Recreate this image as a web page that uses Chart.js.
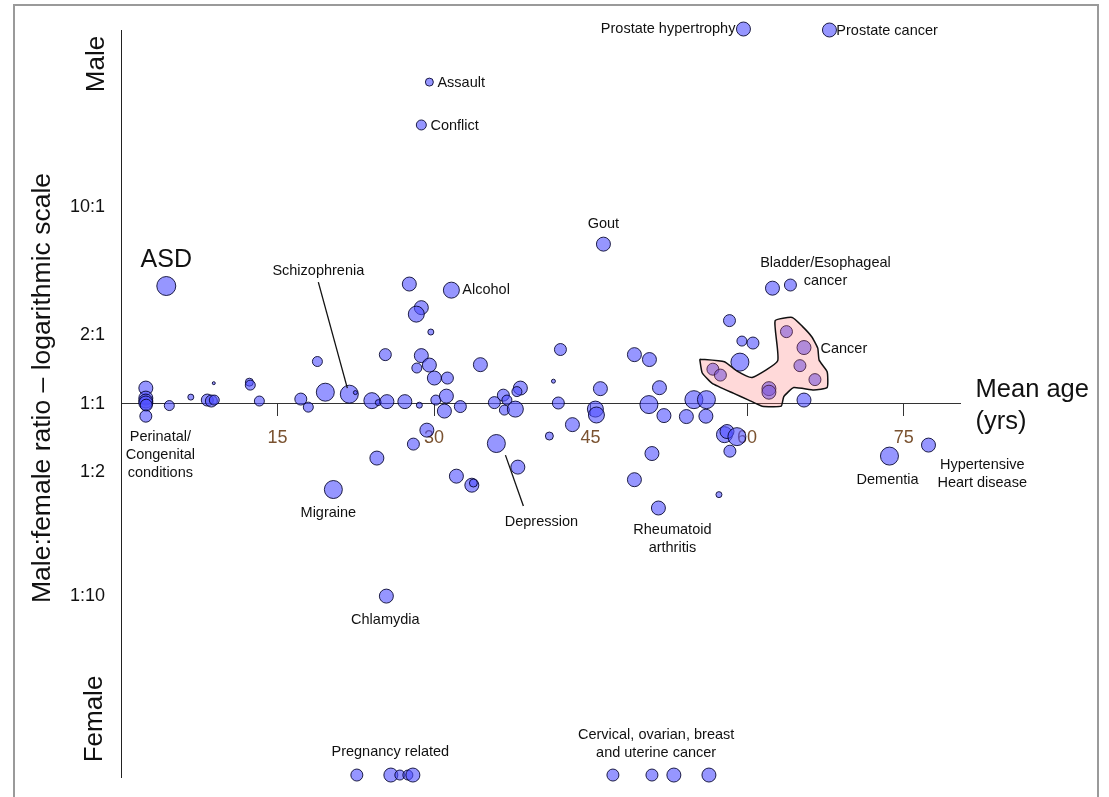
<!DOCTYPE html>
<html>
<head>
<meta charset="utf-8">
<script src="https://cdn.jsdelivr.net/npm/chart.js@4/dist/chart.umd.min.js"></script>
<style>
  html, body { margin: 0; padding: 0; background: #fff; overflow: hidden; }
  #wrap { position: relative; width: 1109px; height: 797px; overflow: hidden; }
  #frame { position: absolute; left: 13px; top: 4px; width: 1082px; height: 820px; border: 2px solid #9a9a9a; pointer-events: none; }
  canvas { position: absolute; left: 0; top: 0; }
</style>
</head>
<body>
<div id="wrap">
  <canvas id="chart" width="1109" height="804"></canvas>
  <div id="frame"></div>
</div>
<script>
// y values are positions on the log ratio axis (0 = 1:1, 1 = 10:1 as drawn)
const bubbleAge = [
  2.38, 2.38, 2.38, 2.38, 2.42, 2.38, 4.63, 6.69, 8.89, 8.27, 8.66, 8.94,
  12.30, 12.39, 13.26, 18.82, 17.23, 17.95, 19.58, 21.88, 22.46, 20.35, 4.34,
  27.63, 31.66, 28.78, 28.30, 29.69, 25.33, 28.78, 28.35, 29.55, 30.03, 31.28,
  34.44, 42.11, 41.44, 24.04, 24.66, 25.48, 27.20, 28.59, 30.17, 31.18, 30.99,
  32.52, 35.78, 36.64, 36.98, 36.74, 37.79, 38.27, 37.94, 41.91, 43.26, 41.05,
  29.31, 28.02, 24.52, 35.97, 38.03, 32.14, 33.62, 33.77, 25.43,
  58.31, 59.50, 60.56, 49.20, 50.64, 59.31, 45.94, 51.60, 45.46, 45.56, 50.59,
  52.03, 54.90, 56.10, 54.18, 56.05, 57.83, 58.07, 59.02, 58.35, 50.88, 49.20,
  57.30, 56.72, 57.44, 62.09, 62.09, 63.77, 65.45, 65.06, 66.50, 65.45,
  59.65, 67.89, 29.55, 28.78, 46.23, 62.43, 64.15, 51.50, 73.64, 77.38,
  22.60, 25.86, 26.72, 27.49, 27.97, 47.14, 50.88, 52.98, 56.34
];
const bubbleRatio = [
  0.079, 0.028, 0.013, 0.003, -0.008, -0.064, -0.010, 0.033, 0.104, 0.018, 0.013, 0.018,
  0.109, 0.094, 0.013, 0.214, 0.023, -0.018, 0.058, 0.048, 0.056, -0.437, 0.598,
  0.608, 0.577, 0.488, 0.455, 0.364, 0.249, 0.244, 0.181, 0.196, 0.130, 0.130,
  0.198, 0.275, 0.114, 0.015, 0.005, 0.010, 0.010, -0.008, 0.018, 0.038, -0.038,
  -0.015, 0.005, 0.043, 0.018, -0.033, -0.028, 0.079, 0.061, 0.003, -0.107, -0.165,
  -0.135, -0.206, -0.277, -0.203, -0.323, -0.369, -0.415, -0.404, -0.979,
  0.422, 0.318, 0.308, 0.249, 0.224, 0.211, 0.076, 0.081, -0.028, -0.058, -0.005,
  -0.061, 0.020, 0.020, -0.066, -0.064, -0.158, -0.142, -0.168, -0.242, -0.254, -0.387,
  -0.463, 0.175, 0.145, 0.076, 0.058, 0.366, 0.285, 0.193, 0.122, 0.018,
  1.905, 1.900, 1.635, 1.417, 0.811, 0.587, 0.603, -0.531, -0.267, -0.211,
  -1.889, -1.889, -1.889, -1.889, -1.889, -1.889, -1.889, -1.889, -1.889
];
const bubbleSize = [
  7, 7, 7, 7, 6, 6, 5, 3, 1.5, 6, 6, 5,
  4, 5, 5, 5, 6, 5, 9, 9, 2, 9, 9.5,
  7, 8, 7, 8, 3, 6, 7, 5, 7, 7, 6,
  7, 6, 2, 8, 3, 7, 7, 3, 5, 7, 7,
  6, 6, 6, 5, 5, 8, 7, 5, 6, 7, 4,
  7, 6, 7, 9, 7, 7, 7, 4, 7,
  6, 5, 6, 7, 7, 9, 7, 7, 8, 8, 9,
  7, 9, 9, 7, 7, 8, 7, 9, 6, 7, 7,
  3, 6, 6, 7, 7, 6, 7, 6, 6, 7,
  7, 7, 4, 5, 7, 7, 6, 7, 9, 7,
  6, 7, 5, 5, 7, 6, 6, 7, 7
];

// outline of the cancer group
const cancerAge = [55.46, 57.82, 59.04, 60.48, 62.93, 62.68, 64.32, 65.27, 66.19, 66.77, 66.90,
  67.67, 67.67, 66.39, 64.47, 63.51, 63.26, 61.44, 60.15, 58.72, 56.65, 55.69, 55.46];
const cancerRatio = [0.226, 0.213, 0.165, 0.133, 0.218, 0.421, 0.438, 0.394, 0.340, 0.281, 0.221,
  0.162, 0.082, 0.069, 0.082, 0.035, -0.013, -0.013, 0.018, 0.052, 0.103, 0.157, 0.226];

// leader lines: [label end, bubble end]
const schizoLine = [[18.91, 0.618], [21.69, 0.079]];
const depressionLine = [[36.84, -0.262], [38.56, -0.521]];

const xTicks = [15, 30, 45, 60, 75];
const yTickValues = [1.0, 0.35, 0, -0.35, -0.98];
const yTickLabels = ['10:1', '2:1', '1:1', '1:2', '1:10'];

// annotations: text lines, age, ratio position of first line, alignment, font size
const notes = [
  [['Prostate hypertrophy'], 58.88, 1.905, 'right', 14.5],
  [['Prostate cancer'], 68.55, 1.895, 'left', 14.5],
  [['Assault'], 30.32, 1.630, 'left', 14.5],
  [['Conflict'], 29.65, 1.412, 'left', 14.5],
  [['Gout'], 46.23, 0.913, 'center', 14.5],
  [['ASD'], 4.34, 0.730, 'center', 25],
  [['Schizophrenia'], 18.91, 0.674, 'center', 14.5],
  [['Alcohol'], 32.71, 0.577, 'left', 14.5],
  [['Bladder/Esophageal', 'cancer'], 67.51, 0.715, 'center', 14.5],
  [['Cancer'], 67.03, 0.277, 'left', 14.5],
  [['Perinatal/', 'Congenital', 'conditions'], 3.77, -0.170, 'center', 14.5],
  [['Migraine'], 19.87, -0.557, 'center', 14.5],
  [['Depression'], 40.29, -0.600, 'center', 14.5],
  [['Rheumatoid', 'arthritis'], 52.84, -0.641, 'center', 14.5],
  [['Dementia'], 73.46, -0.389, 'center', 14.5],
  [['Hypertensive', 'Heart disease'], 82.53, -0.313, 'center', 14.5],
  [['Chlamydia'], 25.33, -1.101, 'center', 14.5],
  [['Pregnancy related'], 25.81, -1.771, 'center', 14.5],
  [['Cervical, ovarian, breast', 'and uterine cancer'], 51.28, -1.686, 'center', 14.5],
  [['Mean age', '(yrs)'], 81.89, 0.069, 'left', 25.5]
];

const FONT = "'Liberation Sans', Arial, sans-serif";
Chart.defaults.font.family = FONT;

const bubbles = bubbleAge.map((a, i) => ({ x: a, y: bubbleRatio[i], r: bubbleSize[i] }));
const cancerPts = cancerAge.map((a, i) => ({ x: a, y: cancerRatio[i] }));
const toPts = arr => arr.map(p => ({ x: p[0], y: p[1] }));

const notesPlugin = {
  id: 'notes',
  afterDatasetsDraw(chart) {
    const { ctx, scales: { x, y }, chartArea } = chart;
    ctx.save();
    ctx.fillStyle = '#111';
    ctx.textBaseline = 'middle';
    notes.forEach(([lines, age, pos, align, size]) => {
      ctx.font = size + 'px ' + FONT;
      ctx.textAlign = align;
      const px = x.getPixelForValue(age);
      const py = y.getPixelForValue(pos);
      lines.forEach((t, k) => ctx.fillText(t, px, py + k * size * 1.25));
    });
    // side titles
    const drawRot = (text, cx, cy, size) => {
      ctx.save();
      ctx.translate(cx, cy);
      ctx.rotate(-Math.PI / 2);
      ctx.textAlign = 'center';
      ctx.font = size + 'px ' + FONT;
      ctx.fillText(text, 0, 0);
      ctx.restore();
    };
    const left = chartArea.left;
    drawRot('Male', left - 24, 64, 26);
    drawRot('Female', left - 26, 719, 26);
    drawRot('Male:female ratio – logarithmic scale', left - 78, 388, 26.5);
    ctx.restore();
  }
};

new Chart(document.getElementById('chart'), {
  type: 'bubble',
  data: {
    datasets: [
      {
        type: 'scatter',
        data: cancerPts,
        showLine: true,
        fill: 'shape',
        backgroundColor: 'rgba(255, 105, 105, 0.25)',
        borderColor: '#111',
        borderWidth: 1.5,
        pointRadius: 0,
        tension: 0.15,
        order: 0,
        clip: false
      },
      {
        type: 'scatter',
        data: toPts(schizoLine),
        showLine: true,
        borderColor: '#111',
        borderWidth: 1.3,
        pointRadius: 0,
        order: 1
      },
      {
        type: 'scatter',
        data: toPts(depressionLine),
        showLine: true,
        borderColor: '#111',
        borderWidth: 1.3,
        pointRadius: 0,
        order: 1
      },
      {
        data: bubbles,
        backgroundColor: 'rgba(80, 80, 255, 0.6)',
        borderColor: 'rgba(0, 0, 40, 0.85)',
        borderWidth: 1,
        order: 2,
        clip: false
      }
    ]
  },
  options: {
    responsive: false,
    animation: false,
    events: [],
    layout: { autoPadding: false, padding: { left: 0, top: 30, right: 149, bottom: 20 } },
    plugins: { legend: { display: false }, tooltip: { enabled: false } },
    scales: {
      x: {
        type: 'linear',
        min: 0,
        max: 80.4,
        position: { y: 0 },
        afterFit: s => { s.height = 0; },
        afterBuildTicks: s => { s.ticks = xTicks.map(v => ({ value: v })); },
        grid: { drawOnChartArea: false, drawTicks: true, tickLength: 12, color: '#333', lineWidth: 1 },
        border: { display: true, color: '#333', width: 1 },
        ticks: { color: '#7a5230', font: { size: 18 }, padding: 12, maxRotation: 0 }
      },
      y: {
        type: 'linear',
        min: -1.9,
        max: 1.9,
        position: 'left',
        afterFit: s => { s.width = 121; },
        afterBuildTicks: s => { s.ticks = yTickValues.map(v => ({ value: v })); },
        grid: { display: false, drawTicks: false },
        border: { display: true, color: '#222', width: 1 },
        ticks: {
          color: '#111',
          font: { size: 18 },
          padding: 16,
          callback: v => {
            const i = yTickValues.indexOf(v);
            return i >= 0 ? yTickLabels[i] : '';
          }
        }
      }
    }
  },
  plugins: [notesPlugin]
});
</script>
</body>
</html>
